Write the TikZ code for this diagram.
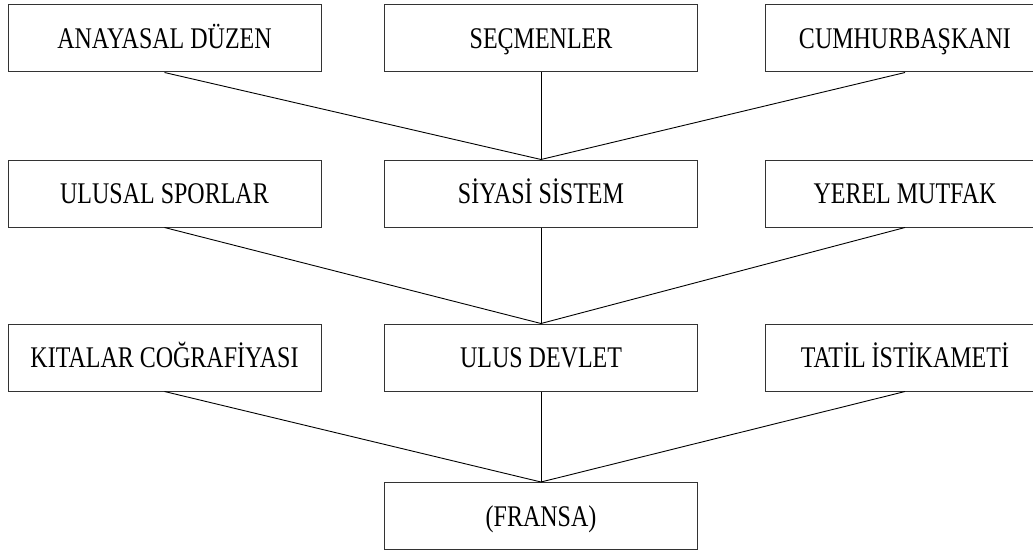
\documentclass[tikz,border=0pt]{standalone}
\usepackage{fontspec}
\usepackage{graphicx}
\setmainfont{Liberation Serif}
\begin{document}
\begin{tikzpicture}[x=1pt,y=-1pt,
  box/.style={draw=black!80, line width=1pt, rectangle, inner sep=0pt,
    minimum height=67pt, font=\fontsize{24}{24}\selectfont},
  wide/.style={box, minimum width=313pt},
  side/.style={box, minimum width=280pt},
  link/.style={draw=black, line width=0.9pt}]
\useasboundingbox (0,0) rectangle (1033,551);
\clip (0,0) rectangle (1033,551);
% capitals set on a common baseline, stretched upright
\newcommand{\lbl}[1]{\raisebox{-10pt}[0pt][0pt]{\scalebox{1}[1.25]{#1}}}

% top row
\node[wide] (anayasa) at (164.5,38.5) {\lbl{ANAYASAL DÜZEN}};
\node[wide] (secmen)  at (541,38.5)   {\lbl{SEÇMENLER}};
\node[side] (cumhur)  at (905,38.5)   {\lbl{CUMHURBAŞKANI}};

% second row
\node[wide] (spor)    at (164.5,193.5) {\lbl{ULUSAL SPORLAR}};
\node[wide] (siyasi)  at (541,193.5)   {\lbl{SİYASİ SİSTEM}};
\node[side] (mutfak)  at (905,193.5)   {\lbl{YEREL MUTFAK}};

% third row
\node[wide] (kita)    at (164.5,357.5) {\lbl{KITALAR COĞRAFİYASI}};
\node[wide] (ulus)    at (541,357.5)   {\lbl{ULUS DEVLET}};
\node[side] (tatil)   at (905,357.5)   {\lbl{TATİL İSTİKAMETİ}};

% bottom
\node[wide] (fransa)  at (541,516)     {\lbl{(FRANSA)}};

% connectors
\foreach \a/\b in {anayasa/siyasi, secmen/siyasi, cumhur/siyasi,
                   spor/ulus, siyasi/ulus, mutfak/ulus,
                   kita/fransa, ulus/fransa, tatil/fransa}
  \draw[link] (\a.south) -- (\b.north);
\end{tikzpicture}
\end{document}
